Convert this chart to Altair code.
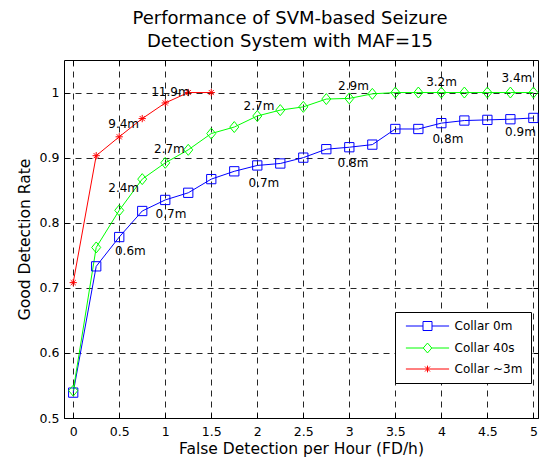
import altair as alt
import pandas as pd

# ---- data ----
x_vals = [0, 0.25, 0.5, 0.75, 1.0, 1.25, 1.5, 1.75, 2.0, 2.25, 2.5, 2.75, 3.0,
          3.25, 3.5, 3.75, 4.0, 4.25, 4.5, 4.75, 5.0]
collar_0m = [0.539, 0.733, 0.778, 0.818, 0.835, 0.846, 0.867, 0.879, 0.888, 0.891,
             0.900, 0.913, 0.916, 0.920, 0.944, 0.944, 0.953, 0.957, 0.958, 0.959, 0.961]
collar_40s = [0.542, 0.762, 0.819, 0.867, 0.892, 0.912, 0.937, 0.947, 0.964, 0.973,
              0.978, 0.990, 0.991, 0.998, 1.0, 1.0, 1.0, 1.0, 1.0, 1.0, 1.0]
x_red = [0, 0.25, 0.5, 0.75, 1.0, 1.25, 1.5]
collar_3m = [0.708, 0.903, 0.932, 0.960, 0.984, 1.0, 1.0]

series_names = ["Collar 0m", "Collar 40s", "Collar ~3m"]
series_colors = ["#0000ff", "#00ff00", "#ff0000"]

ann_text = ["11.9m", "9.4m", "2.7m", "2.7m", "2.4m", "0.7m", "0.7m", "0.6m",
            "2.9m", "3.2m", "3.4m", "0.8m", "0.8m", "0.9m"]
ann_x = [1.056, 0.548, 2.018, 1.045, 0.548, 1.062, 2.072, 0.621,
         3.045, 4.002, 4.82, 3.04, 4.072, 4.86]
ann_y = [1.001, 0.952, 0.979, 0.9135, 0.854, 0.813, 0.861, 0.757,
         1.010, 1.016, 1.023, 0.891, 0.929, 0.940]

x_ticks = [0, 0.5, 1, 1.5, 2, 2.5, 3, 3.5, 4, 4.5, 5]
y_ticks = [0.5, 0.6, 0.7, 0.8, 0.9, 1.0]

# ---- tables ----
rows = []
for xv, yv in zip(x_vals, collar_0m):
    rows.append({"x": xv, "y": yv, "series": series_names[0]})
for xv, yv in zip(x_vals, collar_40s):
    rows.append({"x": xv, "y": yv, "series": series_names[1]})
for xv, yv in zip(x_red, collar_3m):
    rows.append({"x": xv, "y": yv, "series": series_names[2]})
df = pd.DataFrame(rows)
ann = pd.DataFrame({"t": ann_text, "x": ann_x, "y": ann_y})

W, H = 474, 358
FONT = "DejaVu Sans"
xs = alt.Scale(domain=[-0.1, 5.05], nice=False, zero=False)
ys = alt.Scale(domain=[0.5, 1.05], nice=False, zero=False)

main_x_axis = alt.Axis(values=x_ticks, format="~g", grid=True, ticks=False, domain=False,
                       title="False Detection per Hour (FD/h)", labelPadding=7, titlePadding=4)
main_y_axis = alt.Axis(values=y_ticks, format="~g", grid=True, ticks=False, domain=False,
                       title="Good Detection Rate", labelPadding=5, titlePadding=7)


def tick_axis(orient, values, offset):
    return alt.Axis(orient=orient, values=values, offset=offset, labels=False, grid=False,
                    domain=False, ticks=True, tickSize=5, tickColor="black", tickWidth=1,
                    title=None)


square = "M-1,-1H1V1H-1Z"
diamond = "M0,-1.1L0.9,0L0,1.1L-0.9,0Z"
star = "M0,-1V1M-1,0H1M-0.7,-0.7L0.7,0.7M-0.7,0.7L0.7,-0.7"
marker_shapes = [square, diamond, star]
marker_sizes = [86, 100, 53]

base = alt.Chart(df)

layers = []
# lines
for i, name in enumerate(series_names):
    if i == 0:
        enc = dict(x=alt.X("x:Q", scale=xs, axis=main_x_axis),
                   y=alt.Y("y:Q", scale=ys, axis=main_y_axis))
    else:
        enc = dict(x=alt.X("x:Q", scale=xs, axis=None), y=alt.Y("y:Q", scale=ys, axis=None))
    layers.append(base.transform_filter(alt.datum.series == name)
                  .mark_line(color=series_colors[i], strokeWidth=1)
                  .encode(**enc))
# markers
for i, name in enumerate(series_names):
    if i == 0:
        enc = dict(x=alt.X("x:Q", scale=xs, axis=tick_axis("top", x_ticks, -H)),
                   y=alt.Y("y:Q", scale=ys, axis=tick_axis("right", y_ticks, -W)))
    elif i == 1:
        enc = dict(x=alt.X("x:Q", scale=xs, axis=tick_axis("bottom", x_ticks, -H)),
                   y=alt.Y("y:Q", scale=ys, axis=tick_axis("left", y_ticks, -W)))
    else:
        enc = dict(x=alt.X("x:Q", scale=xs, axis=None), y=alt.Y("y:Q", scale=ys, axis=None))
    layers.append(base.transform_filter(alt.datum.series == name)
                  .mark_point(shape=marker_shapes[i], size=marker_sizes[i], filled=False,
                              color=series_colors[i], strokeWidth=1, opacity=1)
                  .encode(**enc))

# annotations
layers.append(alt.Chart(ann).mark_text(font=FONT, fontSize=12, color="black",
                                       align="center", baseline="middle")
              .encode(x=alt.X("x:Q", scale=xs, axis=None),
                      y=alt.Y("y:Q", scale=ys, axis=None), text="t:N"))

# legend (line + marker symbols)
legend_paths = [
    "M-4.8,0H-1M1,0H4.8M-1,-1H1V1H-1Z",
    "M-4.8,0H-0.95M0.95,0H4.8M0,-1.1L0.95,0L0,1.1L-0.95,0Z",
    "M-4.8,0H4.8M0,-0.75V0.75M-0.55,-0.55L0.55,0.55M-0.55,0.55L0.55,-0.55",
]
leg = dict(orient="none", legendX=331, legendY=252, title=None, padding=8,
           strokeColor="black", fillColor="white", cornerRadius=0,
           labelFont=FONT, labelFontSize=12, labelColor="black",
           symbolSize=81, symbolStrokeWidth=1, symbolOffset=18.5, labelOffset=21,
           rowPadding=8)
layers.append(base.transform_filter("datum.x < -999")
              .mark_point(filled=False, opacity=1, size=81, strokeWidth=1)
              .encode(x=alt.X("x:Q", scale=xs, axis=None),
                      y=alt.Y("y:Q", scale=ys, axis=None),
                      color=alt.Color("series:N", scale=alt.Scale(domain=series_names, range=series_colors),
                                      legend=alt.Legend(**leg)),
                      shape=alt.Shape("series:N", scale=alt.Scale(domain=series_names, range=legend_paths),
                                      legend=alt.Legend(**leg))))

chart = (alt.layer(*layers)
         .resolve_axis(x="independent", y="independent")
         .properties(
             width=W, height=H,
             autosize=alt.AutoSizeParams(type="none"),
             padding={"left": 56, "top": 52, "right": 1, "bottom": 40},
             title=alt.TitleParams(
                 text=["Performance of SVM-based Seizure", "Detection System with MAF=15"],
                 font=FONT, fontSize=18, fontWeight="normal", color="black",
                 anchor="middle", frame="group", dx=-11, offset=9, lineHeight=23))
         .configure(background="white")
         .configure_view(stroke="black", strokeWidth=1)
         .configure_axis(labelFont=FONT, labelFontSize=12.5, labelColor="black",
                         titleFont=FONT, titleFontSize=15.5, titleFontWeight="normal",
                         titleColor="black", gridColor="black", gridOpacity=0.85,
                         gridDash=[6, 5], gridWidth=1))

chart.save("out.html", embed_options={"renderer": "svg", "actions": False})
